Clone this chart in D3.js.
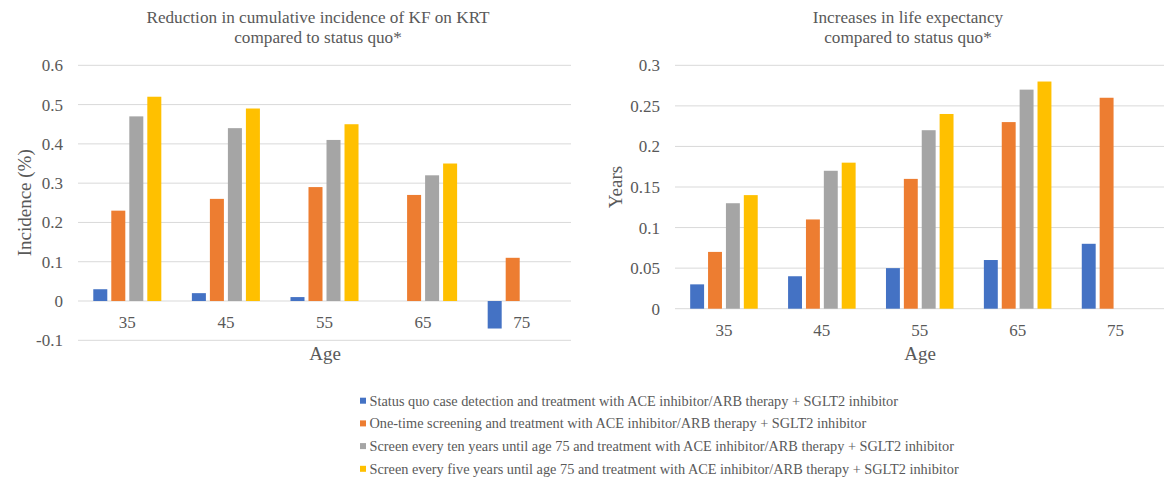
<!DOCTYPE html>
<html>
<head>
<meta charset="utf-8">
<script src="https://cdn.jsdelivr.net/npm/d3@7"></script>
<style>
  html, body { margin: 0; padding: 0; background: #fff; }
  svg { display: block; }
</style>
</head>
<body>
<svg id="chart" width="1164" height="479"></svg>
<script>
// ---- Data ----
const ages = ["35", "45", "55", "65", "75"];
const seriesNames = [
  "Status quo case detection and treatment with ACE inhibitor/ARB therapy + SGLT2 inhibitor",
  "One-time screening and treatment with ACE inhibitor/ARB therapy + SGLT2 inhibitor",
  "Screen every ten years until age 75 and treatment with ACE inhibitor/ARB therapy + SGLT2 inhibitor",
  "Screen every five years until age 75 and treatment with ACE inhibitor/ARB therapy + SGLT2 inhibitor"
];
const seriesColors = ["#4472C4", "#ED7D31", "#A5A5A5", "#FFC000"];

// Left chart: reduction in cumulative incidence (%)
const incStatusQuo = [0.03, 0.02, 0.01, 0, -0.07];
const incOneTime   = [0.23, 0.26, 0.29, 0.27, 0.11];
const incTenYears  = [0.47, 0.44, 0.41, 0.32, null];
const incFiveYears = [0.52, 0.49, 0.45, 0.35, null];
const incTicks = [-0.1, 0, 0.1, 0.2, 0.3, 0.4, 0.5, 0.6];

// Right chart: increase in life expectancy (years)
const leStatusQuo = [0.03, 0.04, 0.05, 0.06, 0.08];
const leOneTime   = [0.07, 0.11, 0.16, 0.23, 0.26];
const leTenYears  = [0.13, 0.17, 0.22, 0.27, null];
const leFiveYears = [0.14, 0.18, 0.24, 0.28, null];
const leTicks = [0, 0.05, 0.1, 0.15, 0.2, 0.25, 0.3];

const FONT = "'Liberation Serif', 'DejaVu Serif'";
const TEXT = "#595959";
const svg = d3.select("#chart");

function txt(sel, size) {
  return sel.attr("font-family", FONT).attr("font-size", size).attr("fill", TEXT);
}

function drawPanel(cfg) {
  const g = svg.append("g");
  const x0 = d3.scaleBand().domain(ages).range([cfg.left, cfg.right])
    .paddingInner(0.31).paddingOuter(0.155);
  const x1 = d3.scaleBand().domain(d3.range(4)).range([0, x0.bandwidth()])
    .paddingInner(0.222).paddingOuter(0);
  const y = d3.scaleLinear().domain(cfg.domain).range([cfg.bottom, cfg.top]);

  // gridlines
  g.append("g").selectAll("line").data(cfg.ticks).join("line")
    .attr("x1", cfg.left).attr("x2", cfg.right)
    .attr("y1", d => y(d)).attr("y2", d => y(d))
    .attr("stroke", "#D9D9D9").attr("stroke-width", 1);

  // y axis labels
  const yAxis = d3.axisLeft(y).tickValues(cfg.ticks).tickSize(0).tickPadding(0)
    .tickFormat(d => String(+d.toFixed(2)));
  const ya = g.append("g").attr("transform", `translate(${cfg.left - 15},0)`).call(yAxis);
  ya.attr("font-family", null).attr("font-size", null);
  ya.select(".domain").remove();
  txt(ya.selectAll("text"), 17);

  // bars
  cfg.series.forEach((vals, si) => {
    g.append("g").selectAll("rect")
      .data(vals.map((v, i) => ({ age: ages[i], v })).filter(d => d.v !== null && d.v !== 0))
      .join("rect")
      .attr("x", d => x0(d.age) + x1(si))
      .attr("width", x1.bandwidth())
      .attr("y", d => y(Math.max(0, d.v)))
      .attr("height", d => Math.abs(y(d.v) - y(0)))
      .attr("fill", seriesColors[si]);
  });

  // category labels
  txt(g.append("g").selectAll("text").data(ages).join("text"), 17)
    .attr("x", d => x0(d) + x0.bandwidth() / 2)
    .attr("y", y(0) + 21).attr("dy", "0.35em")
    .attr("text-anchor", "middle")
    .text(d => d);

  // axis titles
  txt(g.append("text"), 19).attr("x", cfg.ageX).attr("y", 353).attr("dy", "0.35em")
    .attr("text-anchor", "middle").text("Age");
  txt(g.append("text"), 19)
    .attr("transform", `translate(${cfg.yTitleX},${(cfg.top + cfg.bottom) / 2}) rotate(-90)`)
    .attr("dy", "0.35em").attr("text-anchor", "middle")
    .text(cfg.yTitle);

  // chart title
  cfg.title.forEach((t, i) => {
    txt(g.append("text"), 17.2).attr("x", cfg.titleX).attr("y", 17 + i * 20).attr("dy", "0.35em")
      .attr("text-anchor", "middle").text(t);
  });
}

drawPanel({
  left: 78, right: 571, top: 65.3, bottom: 340.3,
  domain: [-0.1, 0.6], ticks: incTicks,
  series: [incStatusQuo, incOneTime, incTenYears, incFiveYears],
  yTitle: "Incidence (%)", yTitleX: 24, ageX: 325, titleX: 318,
  title: ["Reduction in cumulative incidence of KF on KRT", "compared to status quo*"]
});

drawPanel({
  left: 675, right: 1164.5, top: 65.3, bottom: 308.7,
  domain: [0, 0.3], ticks: leTicks,
  series: [leStatusQuo, leOneTime, leTenYears, leFiveYears],
  yTitle: "Years", yTitleX: 615, ageX: 920, titleX: 908,
  title: ["Increases in life expectancy", "compared to status quo*"]
});

// legend
const legend = svg.append("g");
const legItems = legend.selectAll("g").data(seriesNames).join("g")
  .attr("transform", (d, i) => `translate(360,${400.7 + i * 22.7})`);
legItems.append("rect").attr("x", 0).attr("y", -3).attr("width", 6).attr("height", 6)
  .attr("fill", (d, i) => seriesColors[i]);
txt(legItems.append("text"), 14.3).attr("x", 9.5).attr("dy", "0.35em").text(d => d);
</script>
</body>
</html>
